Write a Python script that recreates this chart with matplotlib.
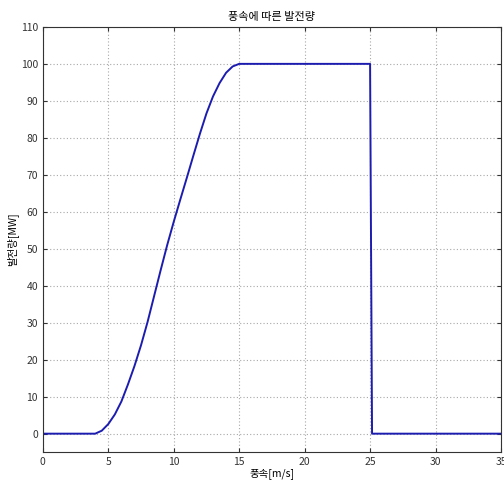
import numpy as np
import matplotlib
matplotlib.use('Agg')
import matplotlib.pyplot as plt

plt.rcParams['font.family'] = ['Noto Sans CJK KR', 'DejaVu Sans']

# wind speed [m/s] and generated power [MW]
wind = [0, 4.0, 4.5, 5.0, 5.5, 6.0, 6.5, 7.0, 7.5, 8.0, 8.5, 9.0, 9.5,
        10.0, 10.5, 11.0, 11.5, 12.0, 12.5, 13.0, 13.5, 14.0, 14.5, 15.0,
        25.0, 25.15, 35.0]
power = [0, 0, 0.8, 2.6, 5.2, 8.7, 13.3, 18.3, 23.9, 30.2, 37.2, 44.2, 51.0,
         57.3, 63.3, 69.2, 75.2, 81.1, 86.6, 91.2, 94.8, 97.6, 99.3, 100.0,
         100.0, 0, 0]

xticks = [0, 5, 10, 15, 20, 25, 30, 35]
yticks = [0, 10, 20, 30, 40, 50, 60, 70, 80, 90, 100, 110]

fig = plt.figure(figsize=(5.04, 4.8), dpi=100)
ax = fig.add_axes([0.085, 0.058, 0.909, 0.886])

ax.plot(wind, power, color='#1c1cb0', linewidth=1.4)

ax.set_xlim(0, 35)
ax.set_ylim(-5, 110)
ax.set_xticks(xticks)
ax.set_yticks(yticks)
ax.grid(True, linestyle=(0, (1, 2)), color='#a8a8a8', linewidth=0.8)
ax.tick_params(direction='in', top=True, right=True, labelsize=7.5,
               colors='#333333', length=3)
for s in ax.spines.values():
    s.set_color('#333333')
    s.set_linewidth(0.8)

ax.set_title('풍속에 따른 발전량', fontsize=8, pad=5)
ax.set_xlabel('풍속[m/s]', fontsize=7.5, labelpad=1)
ax.set_ylabel('발전량[MW]', fontsize=7.5, labelpad=2)

fig.savefig('out.png', dpi=100)
